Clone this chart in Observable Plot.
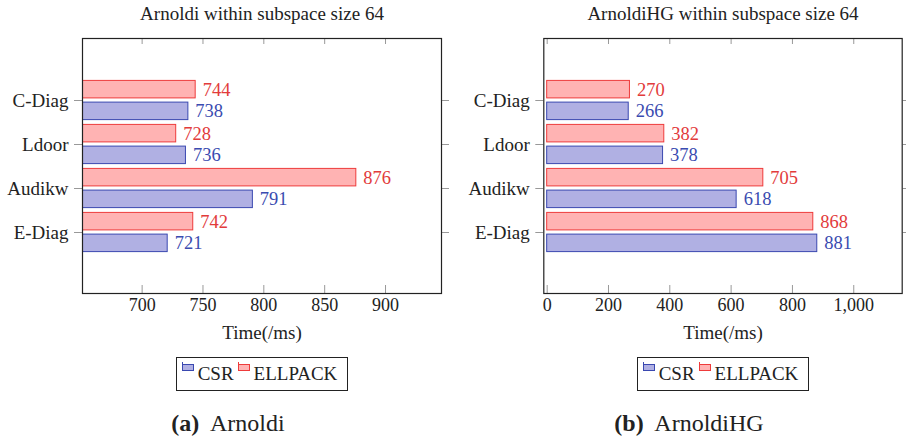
<!DOCTYPE html>
<html><head><meta charset="utf-8">
<script src="https://cdn.jsdelivr.net/npm/d3@7"></script>
<script src="https://cdn.jsdelivr.net/npm/@observablehq/plot@0.6"></script>
<style>
body{margin:0;background:#fff;}
#root{position:relative;width:906px;height:439px;overflow:hidden;font-family:'Liberation Serif',serif;color:#222;}
.panel{position:absolute;top:0;width:453px;height:439px;}
.panel svg.plot{position:absolute;left:0;top:0;overflow:visible;}
.legend{position:absolute;top:357px;height:34px;width:172px;border:1px solid #222;box-sizing:border-box;display:flex;align-items:center;justify-content:center;font-size:19px;font-family:'Liberation Serif',serif;}
.legend .icon{align-self:flex-start;margin-top:4px;margin-right:3px;}
.legend .lab{margin-right:4px;font-family:'Liberation Serif',serif;}
.caption{position:absolute;top:411px;line-height:24px;font-size:24px;white-space:nowrap;transform:translateX(-50%);font-family:'Liberation Serif',serif;}
</style></head>
<body><div id="root"></div>
<script>
const categories = ["C-Diag", "Ldoor", "Audikw", "E-Diag"];
const seriesNames = ["CSR", "ELLPACK"];
const arnoldiCSR = [738, 736, 791, 721];
const arnoldiELLPACK = [744, 728, 876, 742];
const arnoldiHGCSR = [266, 378, 618, 881];
const arnoldiHGELLPACK = [270, 382, 705, 868];
const arnoldiTicks = [700, 750, 800, 850, 900];
const arnoldiHGTicks = [0, 200, 400, 600, 800, 1000];
const titles = ["Arnoldi within subspace size 64", "ArnoldiHG within subspace size 64"];
const xLabel = "Time(/ms)";
const captions = [["(a)", "Arnoldi"], ["(b)", "ArnoldiHG"]];

const FONT = "Liberation Serif";
const colors = {
  CSR: {fill: "#b0b0e3", stroke: "#3a48b0", text: "#3a4bb0"},
  ELLPACK: {fill: "#ffb3b3", stroke: "#ee3b3b", text: "#e23b3b"}
};

function rows(csr, ell) {
  const out = [];
  categories.forEach((c, i) => {
    out.push({category: c, series: "ELLPACK", value: ell[i]});
    out.push({category: c, series: "CSR", value: csr[i]});
  });
  return out;
}

function makePanel(cfg) {
  const data = rows(cfg.csr, cfg.ell);
  const W = 453, H = 350, mt = 38, mb = 57;
  const frameH = H - mt - mb;
  const ell = data.filter(d => d.series === "ELLPACK");
  const csr = data.filter(d => d.series === "CSR");
  const plot = Plot.plot({
    width: W, height: H,
    marginLeft: cfg.ml, marginRight: cfg.mr, marginTop: mt, marginBottom: mb,
    style: {fontFamily: FONT, fontSize: "17.5px", color: "#222", background: "transparent", overflow: "visible"},
    x: {domain: cfg.domain, label: null},
    y: {type: "band", domain: categories, paddingInner: 0, paddingOuter: 0.85, label: null},
    marks: [
      Plot.barX(ell, {y: "category", x: "value", fill: colors.ELLPACK.fill, stroke: colors.ELLPACK.stroke, strokeWidth: 1, insetTop: 2.4, insetBottom: 24.1, clip: true}),
      Plot.barX(csr, {y: "category", x: "value", fill: colors.CSR.fill, stroke: colors.CSR.stroke, strokeWidth: 1, insetTop: 24.1, insetBottom: 2.4, clip: true}),
      Plot.text(ell, {y: "category", x: "value", text: d => String(d.value), dx: 7, dy: -10.8, textAnchor: "start", fill: colors.ELLPACK.text, fontSize: 18.5, fontFamily: FONT}),
      Plot.text(csr, {y: "category", x: "value", text: d => String(d.value), dx: 7, dy: 10.8, textAnchor: "start", fill: colors.CSR.text, fontSize: 18.5, fontFamily: FONT}),
      Plot.tickX(cfg.ticks, {x: d => d, stroke: "#999", strokeWidth: 1, insetTop: frameH - 8}),
      Plot.tickX(cfg.ticks, {x: d => d, stroke: "#999", strokeWidth: 1, insetBottom: frameH - 6}),
      Plot.axisX({anchor: "bottom", ticks: cfg.ticks, tickSize: 0, tickPadding: 5, tickFormat: cfg.fmt, fontSize: 18, fontFamily: FONT, label: null}),
      Plot.axisY({anchor: "left", tickSize: 8, tickPadding: 6, fontSize: 19, fontFamily: FONT, stroke: "#999", label: null}),
      Plot.axisY({anchor: "right", tickSize: 7, tickFormat: () => "", stroke: "#999", label: null}),
      Plot.frame({stroke: "#222", strokeWidth: 1.2}),
      Plot.text([cfg.title], {frameAnchor: "top", lineAnchor: "middle", dy: -25, fontSize: 19, fontFamily: FONT, fill: "#222"}),
      Plot.text([xLabel], {frameAnchor: "bottom", lineAnchor: "middle", dy: 39, fontSize: 19, fontFamily: FONT, fill: "#222"})
    ]
  });
  plot.classList.add("plot");
  const panel = document.createElement("div");
  panel.className = "panel";
  panel.style.left = cfg.left + "px";
  panel.appendChild(plot);

  const legend = document.createElement("div");
  legend.className = "legend";
  legend.style.left = (cfg.ml + (W - cfg.ml - cfg.mr) / 2 - 86) + "px";
  legend.style.fontFamily = FONT;
  seriesNames.forEach(s => {
    const c = colors[s];
    const icon = document.createElementNS("http://www.w3.org/2000/svg", "svg");
    icon.setAttribute("width", 13); icon.setAttribute("height", 10);
    icon.setAttribute("class", "icon");
    icon.innerHTML = `<rect x="0.5" y="2.5" width="11" height="6" fill="${c.fill}" stroke="${c.stroke}" stroke-width="1"/><line x1="0.5" y1="0" x2="0.5" y2="3" stroke="${c.stroke}" stroke-width="1"/>`;
    legend.appendChild(icon);
    const lab = document.createElement("span");
    lab.className = "lab";
    lab.style.fontFamily = FONT;
    lab.textContent = s;
    legend.appendChild(lab);
  });
  panel.appendChild(legend);

  const cap = document.createElement("div");
  cap.className = "caption";
  cap.style.left = cfg.capCenter + "px";
  cap.style.fontFamily = FONT;
  cap.innerHTML = `<b>${cfg.caption[0]}</b>&nbsp; ${cfg.caption[1]}`;
  panel.appendChild(cap);
  document.getElementById("root").appendChild(panel);
}

makePanel({left: 0, ml: 82, mr: 12, domain: [651, 946], ticks: arnoldiTicks, fmt: d3.format("d"),
  csr: arnoldiCSR, ell: arnoldiELLPACK, title: titles[0], caption: captions[0], capCenter: 228});
makePanel({left: 453, ml: 90.3, mr: 4.3, domain: [-11, 1158], ticks: arnoldiHGTicks, fmt: d3.format(","),
  csr: arnoldiHGCSR, ell: arnoldiHGELLPACK, title: titles[1], caption: captions[1], capCenter: 236});
</script>
</body></html>
